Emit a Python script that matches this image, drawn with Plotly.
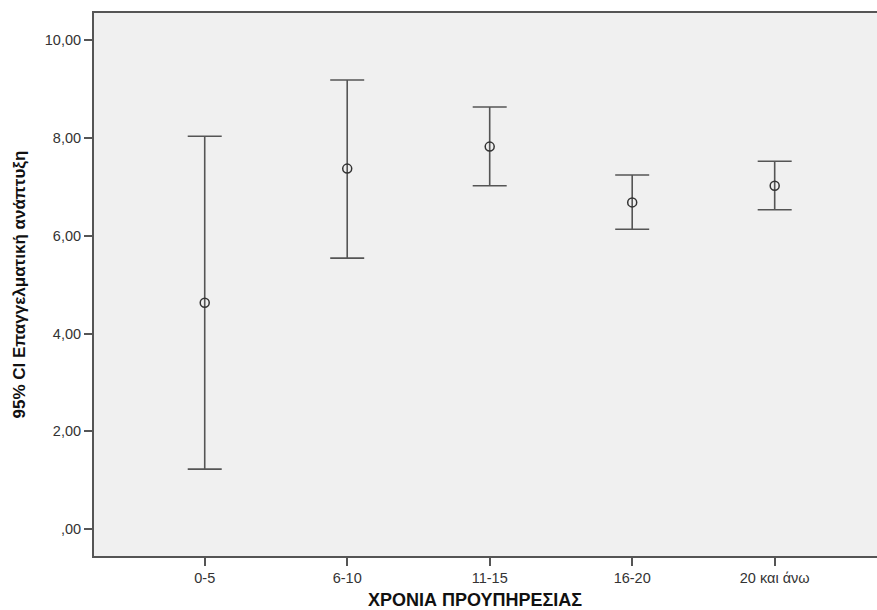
import plotly.graph_objects as go

categories = ["0-5", "6-10", "11-15", "16-20", "20 και άνω"]
means = [4.63, 7.37, 7.82, 6.68, 7.02]
lower = [1.23, 5.54, 7.02, 6.13, 6.53]
upper = [8.03, 9.18, 8.63, 7.24, 7.52]
y_ticks = [0, 2, 4, 6, 8, 10]
y_ticklabels = [",00", "2,00", "4,00", "6,00", "8,00", "10,00"]

xpos = list(range(len(categories)))
err_plus = [u - m for u, m in zip(upper, means)]
err_minus = [m - l for m, l in zip(means, lower)]

fig = go.Figure()
fig.add_trace(go.Scatter(
    x=xpos, y=means, mode="markers",
    marker=dict(symbol="circle-open", size=9, color="#333333", line=dict(width=1.5, color="#333333")),
    error_y=dict(type="data", symmetric=False, array=err_plus, arrayminus=err_minus,
                 color="#555555", thickness=1.6, width=17),
    showlegend=False, hoverinfo="skip",
))

font_family = "Liberation Sans, Arial, sans-serif"
fig.update_layout(
    width=877, height=610,
    margin=dict(l=94, r=0, t=13, b=54),
    paper_bgcolor="white", plot_bgcolor="#F0F0F0",
    font=dict(family=font_family, color="#333333", size=12),
    xaxis=dict(
        range=[-0.777, 4.718], tickmode="array", tickvals=xpos, ticktext=categories,
        showgrid=False, zeroline=False, showline=True, linecolor="#555555", linewidth=2,
        mirror=True, ticks="outside", ticklen=8, tickwidth=1.5, tickcolor="#555555",
        tickfont=dict(size=14.5, color="#333333"),
    ),
    yaxis=dict(
        range=[-0.546, 10.55], tickmode="array", tickvals=y_ticks, ticktext=y_ticklabels,
        showgrid=False, zeroline=False, showline=True, linecolor="#555555", linewidth=2,
        ticks="outside", ticklen=8, tickwidth=1.5, tickcolor="#555555",
        tickfont=dict(size=14.5, color="#333333"),
    ),
    annotations=[
        dict(text="<b>95% CI Επαγγελματική ανάπτυξη</b>", textangle=-90,
             xref="paper", yref="paper", x=-(94 - 19) / 783, y=0.5,
             xanchor="center", yanchor="middle", showarrow=False,
             font=dict(size=17, color="#111111", family=font_family)),
        dict(text="<b>ΧΡΟΝΙΑ ΠΡΟΥΠΗΡΕΣΙΑΣ</b>",
             xref="paper", yref="paper", x=(475 - 94) / 783, y=-(600 - 556) / 543,
             xanchor="center", yanchor="middle", showarrow=False,
             font=dict(size=18, color="#111111", family=font_family)),
    ],
)

fig.write_html("out.html")
